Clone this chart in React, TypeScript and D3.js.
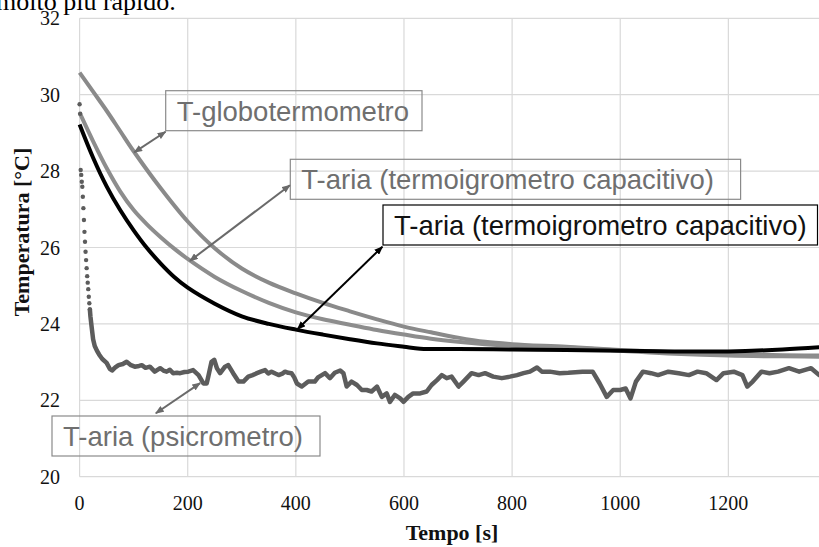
import React from 'react';
import * as d3 from 'd3';

const W = 819;
const H = 547;

const xTicks = [0, 200, 400, 600, 800, 1000, 1200];
const xGrid = [0, 200, 400, 600, 800, 1000, 1200, 1400];
const yTicks = [20, 22, 24, 26, 28, 30, 32];

// T-globotermometro
const globoT = [0, 25, 50, 75, 100, 150, 200, 250, 300, 350, 400, 450, 500, 550, 600, 650, 700, 750, 800, 900, 1000, 1100, 1200, 1300, 1400];
const globoV = [30.58, 30.08, 29.58, 29.05, 28.52, 27.55, 26.68, 25.98, 25.45, 25.08, 24.8, 24.55, 24.33, 24.12, 23.93, 23.78, 23.64, 23.53, 23.47, 23.4, 23.32, 23.26, 23.21, 23.18, 23.17];

// T-aria (termoigrometro capacitivo) - grigio
const termoT = [0, 25, 50, 75, 100, 125, 150, 175, 200, 250, 300, 350, 400, 450, 500, 550, 600, 650, 700, 750, 800, 900, 1000, 1100, 1200, 1300, 1400];
const termoV = [29.53, 28.78, 28.08, 27.47, 26.98, 26.6, 26.27, 25.97, 25.7, 25.23, 24.86, 24.55, 24.3, 24.12, 23.98, 23.84, 23.72, 23.61, 23.53, 23.47, 23.43, 23.38, 23.3, 23.22, 23.17, 23.15, 23.14];

// T-aria (termoigrometro capacitivo) - nero
const blackT = [0, 25, 50, 75, 100, 125, 150, 175, 200, 250, 300, 350, 400, 450, 500, 550, 600, 630, 700, 800, 900, 1000, 1100, 1200, 1300, 1400];
const blackV = [29.22, 28.35, 27.6, 26.98, 26.45, 25.98, 25.58, 25.23, 24.95, 24.53, 24.2, 24.0, 23.85, 23.72, 23.6, 23.49, 23.4, 23.35, 23.34, 23.33, 23.32, 23.3, 23.28, 23.28, 23.33, 23.42];

// T-aria (psicrometro) - primi campioni (marcatori separati)
const psiDotT = [0, 1, 2, 3, 4, 5, 6, 7, 8, 9, 10, 11, 12, 13, 14, 15, 16, 17, 18, 19];
const psiDotV = [29.75, 29.5, 28.03, 27.9, 27.72, 27.59, 27.33, 27.03, 26.72, 26.41, 26.15, 25.89, 25.67, 25.46, 25.25, 25.08, 24.91, 24.71, 24.54, 24.38];

// T-aria (psicrometro) - resto della serie
const psiT = [19, 20, 22, 25, 28, 32, 36, 42, 50, 56, 60, 66, 72, 80, 87, 95, 102, 110, 115, 122, 130, 139, 149, 155, 161, 167, 173, 180, 186, 194, 201, 210, 220, 229, 235, 238, 244, 249, 254, 260, 269, 275, 284, 294, 303, 312, 320, 328, 335, 343, 349, 355, 362, 368, 375, 380, 386, 392, 397, 402, 411, 423, 435, 441, 448, 454, 463, 472, 482, 488, 494, 503, 513, 522, 531, 540, 550, 559, 568, 574, 583, 593, 599, 608, 617, 630, 642, 651, 661, 670, 679, 688, 701, 710, 725, 738, 750, 765, 781, 796, 809, 821, 833, 846, 855, 870, 888, 904, 930, 949, 962, 975, 987, 1000, 1010, 1019, 1029, 1042, 1057, 1070, 1089, 1108, 1127, 1143, 1159, 1178, 1191, 1210, 1226, 1235, 1245, 1261, 1276, 1292, 1312, 1331, 1353, 1368, 1380];
const psiV = [24.38, 24.2, 23.95, 23.6, 23.42, 23.3, 23.2, 23.08, 22.98, 22.82, 22.78, 22.86, 22.92, 22.95, 23.01, 22.92, 22.88, 22.9, 22.92, 22.85, 22.88, 22.75, 22.84, 22.78, 22.75, 22.8, 22.71, 22.72, 22.71, 22.74, 22.75, 22.79, 22.66, 22.44, 22.44, 22.62, 23.01, 23.06, 22.84, 22.71, 22.88, 22.92, 22.71, 22.49, 22.49, 22.62, 22.66, 22.71, 22.75, 22.79, 22.7, 22.75, 22.7, 22.66, 22.7, 22.75, 22.72, 22.71, 22.6, 22.44, 22.36, 22.49, 22.49, 22.6, 22.66, 22.71, 22.58, 22.72, 22.78, 22.71, 22.36, 22.49, 22.4, 22.27, 22.27, 22.23, 22.36, 22.09, 22.18, 21.96, 22.14, 22.05, 21.96, 22.09, 22.18, 22.18, 22.23, 22.4, 22.53, 22.66, 22.58, 22.62, 22.36, 22.49, 22.71, 22.66, 22.71, 22.62, 22.58, 22.62, 22.66, 22.71, 22.75, 22.86, 22.75, 22.75, 22.71, 22.72, 22.75, 22.75, 22.44, 22.09, 22.27, 22.27, 22.31, 22.05, 22.49, 22.75, 22.71, 22.66, 22.75, 22.71, 22.66, 22.75, 22.71, 22.53, 22.71, 22.75, 22.66, 22.36, 22.49, 22.75, 22.71, 22.75, 22.84, 22.75, 22.84, 22.66, 22.7];

// Annotation texts
const labelTexts = ['T-globotermometro', 'T-aria (termoigrometro capacitivo)', 'T-aria (termoigrometro capacitivo)', 'T-aria (psicrometro)'];
// arrow ends in data coordinates: [t1, T1, t2, T2]
const arrowEnds = [
  [101, 28.49, 159, 29.03],
  [204, 25.65, 389, 27.63],
  [403, 23.86, 560, 26.02],
  [223, 22.45, 141, 21.66],
];

export default function App() {
  const x = d3.scaleLinear().domain([0, 1400]).range([79.6, 836.5]);
  const y = d3.scaleLinear().domain([20, 32]).range([476.7, 18.3]);

  const smooth = d3.line<[number, number]>().x(d => x(d[0])).y(d => y(d[1])).curve(d3.curveCatmullRom.alpha(0.5));
  const lin = d3.line<[number, number]>().x(d => x(d[0])).y(d => y(d[1]));

  const zip = (a: number[], b: number[]) => a.map((t, i) => [t, b[i]] as [number, number]);

  const boxes = [
    { x: 165.7, y: 90.7, w: 256.3, h: 40, color: '#8a8a8a', text: '#6f6f6f', marker: 'ag' },
    { x: 290.3, y: 159.3, w: 450.3, h: 40, color: '#8a8a8a', text: '#6f6f6f', marker: 'ag' },
    { x: 383, y: 205, w: 434.5, h: 40, color: '#000', text: '#111', marker: 'ak' },
    { x: 52, y: 416, w: 268, h: 40, color: '#8a8a8a', text: '#6f6f6f', marker: 'ag' },
  ];

  return (
    <svg width={W} height={H} style={{ position: 'absolute', left: 0, top: 0, background: '#fff' }}>
      <defs>
        <marker id="ag" viewBox="0 0 10 8" refX="9" refY="4" markerWidth="9" markerHeight="7" markerUnits="userSpaceOnUse" orient="auto-start-reverse">
          <path d="M0,0 L10,4 L0,8 z" fill="#6a6a6a" />
        </marker>
        <marker id="ak" viewBox="0 0 10 8" refX="9" refY="4" markerWidth="9" markerHeight="7" markerUnits="userSpaceOnUse" orient="auto-start-reverse">
          <path d="M0,0 L10,4 L0,8 z" fill="#000" />
        </marker>
      </defs>
      <rect x={0} y={0} width={W} height={H} fill="#fff" />
      <text x={-4} y={10} fontFamily="'Liberation Serif', serif" fontSize={26} fill="#000">molto più rapido.</text>

      {/* grid */}
      {xGrid.map(t => (
        <line key={'gx' + t} x1={x(t)} x2={x(t)} y1={y(32)} y2={y(20)} stroke="#d9d9d9" strokeWidth={1.2} />
      ))}
      {yTicks.map(v => (
        <line key={'gy' + v} x1={x(0)} x2={x(1400)} y1={y(v)} y2={y(v)} stroke="#d9d9d9" strokeWidth={1.2} />
      ))}

      {/* tick labels */}
      {xTicks.map(t => (
        <text key={'tx' + t} x={x(t)} y={510} textAnchor="middle" fontFamily="'Liberation Serif', serif" fontSize={20} fill="#111">{t}</text>
      ))}
      {yTicks.map(v => (
        <text key={'ty' + v} x={60} y={y(v)} dy="0.35em" textAnchor="end" fontFamily="'Liberation Serif', serif" fontSize={20} fill="#111">{v}</text>
      ))}
      <text x={452} y={540} textAnchor="middle" fontFamily="'Liberation Serif', serif" fontWeight="bold" fontSize={22} fill="#111">Tempo [s]</text>
      <text transform={`translate(29,${232}) rotate(-90)`} textAnchor="middle" fontFamily="'Liberation Serif', serif" fontWeight="bold" fontSize={22} fill="#111">Temperatura [°C]</text>

      {/* series */}
      <path d={smooth(zip(globoT, globoV)) || ''} fill="none" stroke="#8a8a8a" strokeWidth={4} strokeLinejoin="round" />
      <path d={smooth(zip(termoT, termoV)) || ''} fill="none" stroke="#8d8d8d" strokeWidth={4} strokeLinejoin="round" />
      <path d={lin(zip(psiT, psiV)) || ''} fill="none" stroke="#5c5c5c" strokeWidth={4.5} strokeLinejoin="round" strokeLinecap="round" />
      {psiDotT.map((t, i) => (
        <circle key={'pd' + i} cx={x(t)} cy={y(psiDotV[i])} r={2.2} fill="#5c5c5c" />
      ))}
      <path d={smooth(zip(blackT, blackV)) || ''} fill="none" stroke="#000" strokeWidth={4} strokeLinejoin="round" />

      {/* annotations */}
      {boxes.map((b, i) => (
        <g key={'ann' + i}>
          <rect x={b.x} y={b.y} width={b.w} height={b.h} fill="none" stroke={b.color} strokeWidth={1.2} />
          <text x={b.x + 11} y={b.y + b.h / 2} dy="0.36em" fontFamily="'Liberation Sans', Arial, sans-serif" fontSize={27.5} fill={b.text}>{labelTexts[i]}</text>
          <line
            x1={x(arrowEnds[i][0])} y1={y(arrowEnds[i][1])}
            x2={x(arrowEnds[i][2])} y2={y(arrowEnds[i][3])}
            stroke={b.marker === 'ak' ? '#000' : '#6a6a6a'} strokeWidth={2}
            markerStart={`url(#${b.marker})`} markerEnd={`url(#${b.marker})`}
          />
        </g>
      ))}
    </svg>
  );
}
